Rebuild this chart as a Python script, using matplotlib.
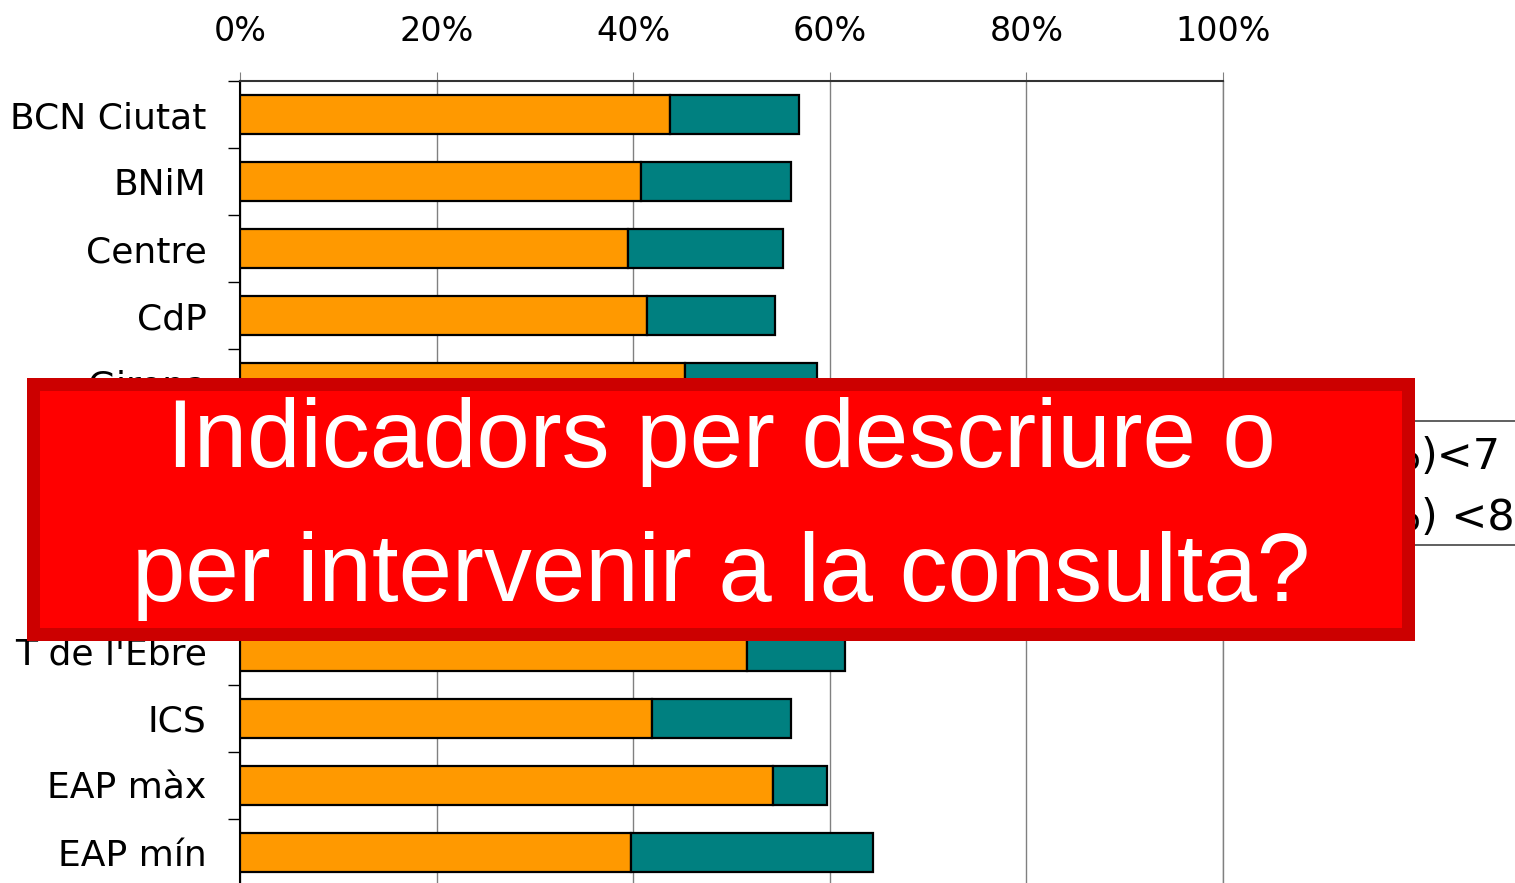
import matplotlib
matplotlib.use("Agg")
import matplotlib.pyplot as plt
from matplotlib.patches import Rectangle
import numpy as np

categories = ["BCN Ciutat", "BNiM", "Centre", "CdP", "Girona", "Lleida", "APiA",
              "Tarragona", "T de l'Ebre", "ICS", "EAP màx", "EAP mín"]
below7 = [43.7, 40.8, 39.5, 41.4, 45.3, 42.0, 44.0, 43.0, 51.6, 41.9, 54.2, 39.8]
below8_total = [56.9, 56.1, 55.2, 54.4, 58.7, 56.0, 58.0, 57.0, 61.5, 56.1, 59.7, 64.4]
xticks = [0, 20, 40, 60, 80, 100]
xticklabels = ["0%", "20%", "40%", "60%", "80%", "100%"]
legend_labels = ["HbA1c (%)<7", "HbA1c (%) <8"]
overlay_lines = ["Indicadors per descriure o", "per intervenir a la consulta?"]

W, H = 1515, 883
fig = plt.figure(figsize=(W / 100, H / 100), dpi=100)

def fx(px):
    return px / W

def fy(py):
    return 1 - py / H

left, right, top = 240, 1223, 81
row = 67.08
bottom = top + row * len(categories)
ax = fig.add_axes([fx(left), fy(bottom), fx(right) - fx(left), (bottom - top) / H])

y = np.arange(len(categories))
between = np.array(below8_total) - np.array(below7)
ax.barh(y, below7, height=0.58, color="#FF9900", edgecolor="black", linewidth=1.6, zorder=3)
ax.barh(y, between, left=below7, height=0.58, color="#008080", edgecolor="black", linewidth=1.6, zorder=3)

ax.set_xlim(0, 100)
ax.set_ylim(len(categories) - 0.5, -0.5)
ax.xaxis.tick_top()
ax.set_xticks(xticks)
ax.set_xticklabels(xticklabels, fontsize=24, family="DejaVu Sans")
ax.tick_params(axis="x", direction="out", length=6.5, color="#808080", pad=17)
ax.set_yticks(y)
ax.set_yticklabels(categories, fontsize=26, family="DejaVu Sans")
ax.tick_params(axis="y", which="major", length=0, pad=24)
ax.set_yticks(np.arange(-0.5, len(categories) - 0.4, 1), minor=True)
ax.tick_params(axis="y", which="minor", length=8.6, color="black", width=1)
ax.grid(axis="x", color="#808080", linewidth=1, zorder=0)
ax.spines["bottom"].set_visible(False)
ax.spines["right"].set_color("#808080")
ax.spines["right"].set_linewidth(1)
ax.spines["left"].set_linewidth(1.5)
ax.spines["top"].set_linewidth(1.5)
ax.spines["top"].set_color("#333333")

# legend (partially hidden)
fig.patches.append(Rectangle((fx(1330), fy(545)), fx(1540) - fx(1330), (545 - 421) / H,
                             transform=fig.transFigure, facecolor="white",
                             edgecolor="#444444", linewidth=1.2, zorder=5))
for lbl, py in zip(legend_labels, [457, 518]):
    head, tail = lbl.split("%", 1)
    fig.text(fx(1421), fy(py), head + "%", ha="right", va="center", fontsize=31,
             family="DejaVu Sans", zorder=6)
    fig.text(fx(1421), fy(py), tail, ha="left", va="center", fontsize=31,
             family="DejaVu Sans", zorder=6)

# overlay box
fig.patches.append(Rectangle((fx(27), fy(641)), fx(1415) - fx(27), (641 - 378) / H,
                             transform=fig.transFigure, facecolor="#CC0000",
                             edgecolor="none", zorder=10))
fig.patches.append(Rectangle((fx(40), fy(628)), fx(1402) - fx(40), (628 - 391) / H,
                             transform=fig.transFigure, facecolor="#FF0000",
                             edgecolor="none", zorder=11))
for txt, base in zip(overlay_lines, [467, 601]):
    fig.text(fx(721), fy(base), txt, ha="center", va="baseline", fontsize=69,
             color="white", family="Liberation Sans", zorder=12)

fig.savefig("out.png", dpi=100)
